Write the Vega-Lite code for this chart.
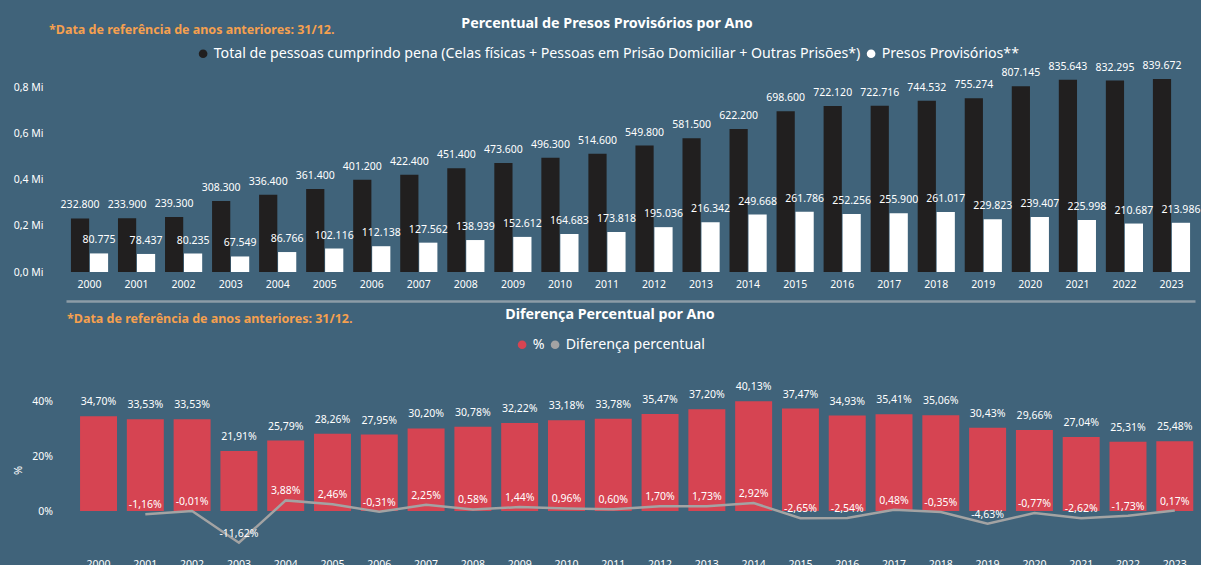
{
  "$schema": "https://vega.github.io/schema/vega-lite/v6.json",
  "background": "#40637a",
  "padding": {"left": 12, "top": 17, "right": 0, "bottom": 0},
  "spacing": 7,
  "resolve": {"scale": {"color": "independent"}, "legend": {"color": "independent"}},
  "config": {
    "font": "Noto Sans",
    "locale": {"number": {"decimal": ",", "thousands": ".", "grouping": [3], "currency": ["R$", ""], "minus": "-"}},
    "view": {"stroke": null},
    "axis": {"labelColor": "#ffffff", "labelFontSize": 10.5, "domain": false, "ticks": false, "tickSize": 0, "grid": false, "titleColor": "#ffffff"},
    "legend": {"labelColor": "#ffffff", "labelFontSize": 14.2, "titleColor": "#ffffff", "symbolStrokeWidth": 0, "labelLimit": 1000, "titleLimit": 1000, "symbolType": "circle", "symbolSize": 75, "labelOffset": 3.5, "columnPadding": 3, "titleFontSize": 14.3, "titleFontWeight": "bold", "titleOrient": "top", "titleAnchor": "middle", "direction": "horizontal", "orient": "none"}
  },
  "datasets": {
    "presos": [
      {"ano": "2000", "total": 232800, "prov": 80775},
      {"ano": "2001", "total": 233900, "prov": 78437},
      {"ano": "2002", "total": 239300, "prov": 80235},
      {"ano": "2003", "total": 308300, "prov": 67549},
      {"ano": "2004", "total": 336400, "prov": 86766},
      {"ano": "2005", "total": 361400, "prov": 102116},
      {"ano": "2006", "total": 401200, "prov": 112138},
      {"ano": "2007", "total": 422400, "prov": 127562},
      {"ano": "2008", "total": 451400, "prov": 138939},
      {"ano": "2009", "total": 473600, "prov": 152612},
      {"ano": "2010", "total": 496300, "prov": 164683},
      {"ano": "2011", "total": 514600, "prov": 173818},
      {"ano": "2012", "total": 549800, "prov": 195036},
      {"ano": "2013", "total": 581500, "prov": 216342},
      {"ano": "2014", "total": 622200, "prov": 249668},
      {"ano": "2015", "total": 698600, "prov": 261786},
      {"ano": "2016", "total": 722120, "prov": 252256},
      {"ano": "2017", "total": 722716, "prov": 255900},
      {"ano": "2018", "total": 744532, "prov": 261017},
      {"ano": "2019", "total": 755274, "prov": 229823},
      {"ano": "2020", "total": 807145, "prov": 239407},
      {"ano": "2021", "total": 835643, "prov": 225998},
      {"ano": "2022", "total": 832295, "prov": 210687},
      {"ano": "2023", "total": 839672, "prov": 213986}
    ],
    "dif": [
      {"ano": "2000", "pct": 0.3470, "dif": null},
      {"ano": "2001", "pct": 0.3353, "dif": -0.0116},
      {"ano": "2002", "pct": 0.3353, "dif": -0.0001},
      {"ano": "2003", "pct": 0.2191, "dif": -0.1162},
      {"ano": "2004", "pct": 0.2579, "dif": 0.0388},
      {"ano": "2005", "pct": 0.2826, "dif": 0.0246},
      {"ano": "2006", "pct": 0.2795, "dif": -0.0031},
      {"ano": "2007", "pct": 0.3020, "dif": 0.0225},
      {"ano": "2008", "pct": 0.3078, "dif": 0.0058},
      {"ano": "2009", "pct": 0.3222, "dif": 0.0144},
      {"ano": "2010", "pct": 0.3318, "dif": 0.0096},
      {"ano": "2011", "pct": 0.3378, "dif": 0.0060},
      {"ano": "2012", "pct": 0.3547, "dif": 0.0170},
      {"ano": "2013", "pct": 0.3720, "dif": 0.0173},
      {"ano": "2014", "pct": 0.4013, "dif": 0.0292},
      {"ano": "2015", "pct": 0.3747, "dif": -0.0265},
      {"ano": "2016", "pct": 0.3493, "dif": -0.0254},
      {"ano": "2017", "pct": 0.3541, "dif": 0.0048},
      {"ano": "2018", "pct": 0.3506, "dif": -0.0035},
      {"ano": "2019", "pct": 0.3043, "dif": -0.0463},
      {"ano": "2020", "pct": 0.2966, "dif": -0.0077},
      {"ano": "2021", "pct": 0.2704, "dif": -0.0262},
      {"ano": "2022", "pct": 0.2531, "dif": -0.0173},
      {"ano": "2023", "pct": 0.2548, "dif": 0.0017}
    ]
  },
  "vconcat": [
    {
      "width": 1129,
      "height": 200,
      "data": {"name": "presos"},
      "transform": [{"fold": ["total", "prov"], "as": ["serie", "valor"]}],
      "title": {"text": "*Data de referência de anos anteriores: 31/12.", "anchor": "start", "frame": "group", "color": "#f5a04f", "fontSize": 12.5, "fontWeight": "bold", "dx": -17, "dy": 23, "offset": 4},
      "resolve": {"axis": {"x": "independent"}},
      "encoding": {
        "xOffset": {"field": "serie", "type": "nominal", "scale": {"domain": ["total", "prov"], "paddingInner": 0.04}},
        "y": {"field": "valor", "type": "quantitative", "scale": {"domain": [0, 869565]}, "title": null, "axis": {"values": [0, 200000, 400000, 600000, 800000], "labelExpr": "replace(format(datum.value / 1000000, '.1f'), '.', ',') + ' Mi'", "labelPadding": 23}}
      },
      "layer": [
        {
          "mark": {"type": "bar"},
          "encoding": {
            "x": {"field": "ano", "type": "nominal", "title": null, "scale": {"paddingInner": 0.21, "paddingOuter": 0.105}, "axis": {"orient": "bottom", "labelAngle": 0, "labelPadding": 7}},
            "color": {"field": "serie", "type": "nominal", "scale": {"domain": ["total", "prov"], "range": ["#211f1f", "#ffffff"]},
              "legend": {"legendX": 130, "legendY": -55, "title": "Percentual de Presos Provisórios por Ano", "titlePadding": 15,
                "labelExpr": "datum.value == 'total' ? 'Total de pessoas cumprindo pena (Celas físicas + Pessoas em Prisão Domiciliar + Outras Prisões*)' : 'Presos Provisórios**'"}}
          }
        },
        {
          "mark": {"type": "text", "baseline": "bottom", "dy": -8, "color": "#ffffff", "fontSize": 10.5},
          "encoding": {
            "x": {"field": "ano", "type": "nominal", "title": null, "axis": {"orient": "bottom", "offset": 29, "labels": false, "domain": true, "domainColor": "#8d9ca7", "domainWidth": 2.5}},
            "text": {"field": "valor", "type": "quantitative", "format": ",.0f"}
          }
        }
      ]
    },
    {
      "width": 1131,
      "height": 164,
      "data": {"name": "dif"},
      "title": {"text": "*Data de referência de anos anteriores: 31/12.", "anchor": "start", "frame": "group", "color": "#f5a04f", "fontSize": 12.5, "fontWeight": "bold", "dx": 1, "dy": 21, "offset": 4},
      "encoding": {
        "x": {"field": "ano", "type": "nominal", "title": null, "scale": {"paddingInner": 0.21, "paddingOuter": 0.19, "align": 0.79}, "axis": {"labelAngle": 0, "labelPadding": 7}}
      },
      "layer": [
        {
          "mark": {"type": "bar"},
          "encoding": {
            "y": {"field": "pct", "type": "quantitative", "scale": {"domain": [-0.14, 0.44]}, "title": "%", "axis": {"values": [0, 0.2, 0.4], "format": ".0%", "labelPadding": 13.5, "titlePadding": 8, "titleFontSize": 11, "titleFontWeight": "normal"}},
            "color": {"datum": "%", "scale": {"domain": ["%", "Diferença percentual"], "range": ["#d64452", "#a3a3a3"]},
              "legend": {"legendX": 439, "legendY": -80, "title": "Diferença Percentual por Ano", "titlePadding": 15}}
          }
        },
        {
          "mark": {"type": "line", "color": "#a3a3a3", "strokeWidth": 2.5},
          "encoding": {"y": {"field": "dif", "type": "quantitative", "title": "%"}}
        },
        {
          "mark": {"type": "text", "baseline": "bottom", "dy": -9, "color": "#ffffff", "fontSize": 10.5},
          "encoding": {"y": {"field": "pct", "type": "quantitative", "title": "%"}, "text": {"field": "pct", "type": "quantitative", "format": ".2%"}}
        },
        {
          "mark": {"type": "text", "baseline": "bottom", "dy": -4, "color": "#ffffff", "fontSize": 10.5},
          "encoding": {"y": {"field": "dif", "type": "quantitative", "title": "%"}, "text": {"field": "dif", "type": "quantitative", "format": ".2%"}}
        }
      ]
    }
  ]
}
